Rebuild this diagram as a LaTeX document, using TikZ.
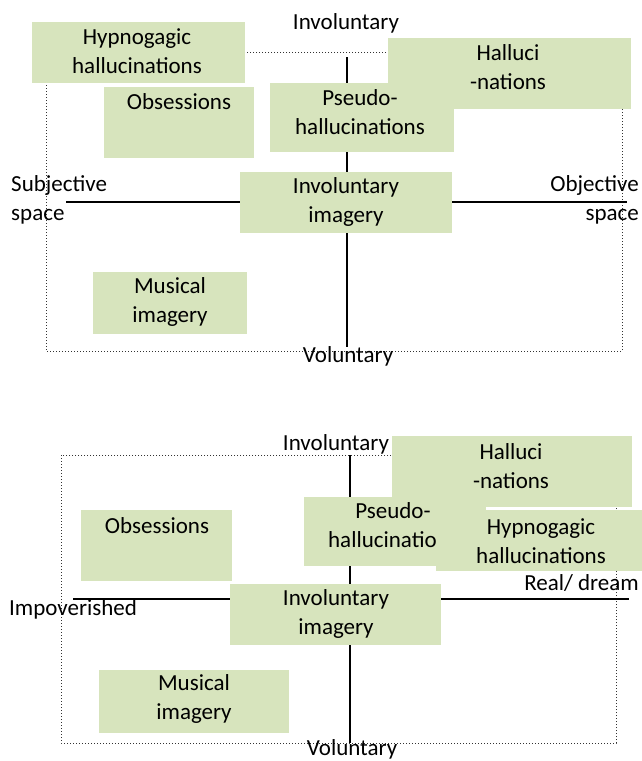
\documentclass[tikz,border=0pt]{standalone}
\usepackage{fontspec}
\setmainfont{Carlito}
\definecolor{boxgreen}{HTML}{D7E4BD}
\tikzset{
  greenbox/.style={fill=boxgreen, inner sep=0pt},
  boxtext/.style={align=center, inner sep=0pt},
  axisline/.style={line width=1.4pt},
  frameline/.style={dotted, line width=1pt, black!80}
}
\begin{document}
\begin{tikzpicture}[x=1pt,y=1pt,
    every node/.style={font=\fontsize{23}{29}\selectfont}]
    \useasboundingbox (0,0) rectangle (642,-761);
    % upper diagram: space
    \draw[frameline] (46,-52) rectangle (622,-351);
    \coordinate (upN) at (347,-57);
    \coordinate (upS) at (347,-347);
    \coordinate (upW) at (66,-202);
    \coordinate (upE) at (627,-202);
    \draw[axisline] (upN) -- (upS);
    \draw[axisline] (upW) -- (upE);
    \node[inner sep=0pt] (upinv) at (346,-23) {Involuntary};
    \node[inner sep=0pt] (upvol) at (348,-356) {Voluntary};
    \node[boxtext, align=left, anchor=west] (subj) at (11,-199.5) {Subjective\\space};
    \node[boxtext, align=right, anchor=east] (obj) at (639,-199.5) {Objective\\space};
    \node[greenbox, minimum width=213, minimum height=61] (hypA) at (138.5,-52.5) {};
    \node[boxtext] (hypAtext) at (137,-51) {Hypnogagic\\hallucinations};
    \node[greenbox, minimum width=150, minimum height=71] (obsA) at (179,-122.5) {};
    \node[boxtext] (obsAtext) at (179,-102) {Obsessions};
    \node[greenbox, minimum width=243, minimum height=71] (halA) at (509.5,-73.5) {};
    \node[boxtext] (halAtext) at (508,-67.5) {Halluci\\-nations};
    \node[greenbox, minimum width=184, minimum height=69] (pseA) at (362,-117.5) {};
    \node[boxtext] (pseAtext) at (360,-112) {Pseudo-\\hallucinations};
    \node[greenbox, minimum width=212, minimum height=61] (invA) at (346,-202.5) {};
    \node[boxtext] (invAtext) at (346,-202) {Involuntary\\imagery};
    \node[greenbox, minimum width=154, minimum height=62] (musA) at (170,-303) {};
    \node[boxtext] (musAtext) at (170,-302) {Musical\\imagery};
    % lower diagram: vividness
    \draw[frameline] (61,-455) rectangle (616,-743);
    \coordinate (loN) at (350,-455);
    \coordinate (loS) at (350,-743);
    \coordinate (loW) at (73,-599);
    \coordinate (loE) at (629,-599);
    \draw[axisline] (loN) -- (loS);
    \draw[axisline] (loW) -- (loE);
    \node[inner sep=0pt] (loinv) at (336,-444) {Involuntary};
    \node[inner sep=0pt] (lovol) at (352,-749) {Voluntary};
    \node[inner sep=0pt, anchor=west] (impov) at (9,-609) {Impoverished};
    \node[inner sep=0pt, anchor=east] (real) at (639,-583) {Real/ dream};
    \node[greenbox, minimum width=240, minimum height=71] (halB) at (512,-471.5) {};
    \node[boxtext] (halBtext) at (511,-466.5) {Halluci\\-nations};
    \node[greenbox, minimum width=182, minimum height=69] (pseB) at (395,-531.5) {};
    \node[boxtext] (pseBtext) at (393,-525.5) {Pseudo-\\hallucinations};
    \node[greenbox, minimum width=207, minimum height=61] (hypB) at (539.5,-540.5) {};
    \node[boxtext] (hypBtext) at (541,-541) {Hypnogagic\\hallucinations};
    \node[greenbox, minimum width=151, minimum height=71] (obsB) at (156.5,-545.5) {};
    \node[boxtext] (obsBtext) at (157,-526) {Obsessions};
    \node[greenbox, minimum width=211, minimum height=61] (invB) at (335.5,-614.5) {};
    \node[boxtext] (invBtext) at (336,-614) {Involuntary\\imagery};
    \node[greenbox, minimum width=190, minimum height=63] (musB) at (194,-701.5) {};
    \node[boxtext] (musBtext) at (194,-698.5) {Musical\\imagery};
\end{tikzpicture}
\end{document}
